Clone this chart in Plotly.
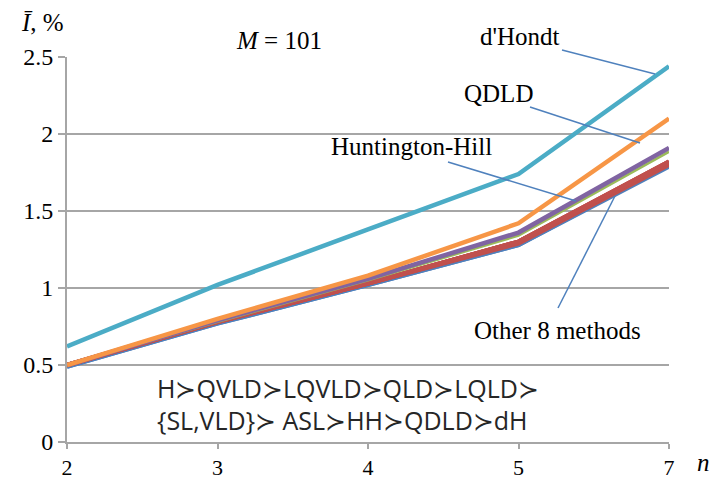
import plotly.graph_objects as go

# ---- data ----
n_values = ["2", "3", "4", "5", "7"]
y_ticks = [0, 0.5, 1, 1.5, 2, 2.5]
y_tick_labels = ["0", "0.5", "1", "1.5", "2", "2.5"]

other_names = ["H", "QVLD", "LQVLD", "QLD", "LQLD", "SL", "VLD", "ASL"]
other_values = [
    [0.49, 0.77, 1.02, 1.28, 1.79],
    [0.49, 0.77, 1.02, 1.28, 1.80],
    [0.50, 0.78, 1.03, 1.29, 1.80],
    [0.50, 0.78, 1.03, 1.30, 1.81],
    [0.50, 0.78, 1.03, 1.30, 1.82],
    [0.50, 0.78, 1.03, 1.30, 1.82],
    [0.50, 0.78, 1.03, 1.30, 1.82],
    [0.50, 0.78, 1.05, 1.34, 1.885],
]
other_colors = ["#4F81BD", "#4F81BD", "#C0504D", "#C0504D", "#C0504D",
                "#C0504D", "#C0504D", "#9BBB59"]
other_widths = [4.5, 4.5, 4.5, 4.5, 4.5, 4.5, 4.5, 2.5]

hh_values = [0.50, 0.79, 1.06, 1.36, 1.91]
qdld_values = [0.50, 0.80, 1.08, 1.42, 2.10]
dh_values = [0.62, 1.02, 1.38, 1.74, 2.44]

rank_line1 = "H≻QVLD≻LQVLD≻QLD≻LQLD≻"
rank_line2 = "{SL,VLD}≻ ASL≻HH≻QDLD≻dH"

# ---- figure ----
fig = go.Figure()
LW = 4.5
for name, vals, col, w in zip(other_names, other_values, other_colors, other_widths):
    fig.add_trace(go.Scatter(x=n_values, y=vals, mode="lines", name=name,
                             line=dict(color=col, width=w)))
fig.add_trace(go.Scatter(x=n_values, y=hh_values, mode="lines", name="Huntington-Hill",
                         line=dict(color="#8064A2", width=LW)))
fig.add_trace(go.Scatter(x=n_values, y=qdld_values, mode="lines", name="QDLD",
                         line=dict(color="#F79646", width=LW)))
fig.add_trace(go.Scatter(x=n_values, y=dh_values, mode="lines", name="d'Hondt",
                         line=dict(color="#4BACC6", width=LW)))

# target plot-area edges on screen (page body adds an 8px offset)
OFF = 8
L, R, T, B = 67, 669, 57, 442
W, H = 717, 484


def px(x):
    return (x - L) / (R - L)


def py(y):
    return (B - y) / (B - T)


serif = "Liberation Serif"
grid_col = "#A6A6A6"

fig.update_layout(
    width=W, height=H,
    margin=dict(l=L - OFF, r=W - R + OFF, t=T - OFF, b=H - B + OFF),
    paper_bgcolor="white", plot_bgcolor="white",
    showlegend=False,
    font=dict(family=serif, size=24, color="#000000"),
    xaxis=dict(type="category", range=[0, 4], showgrid=False, automargin=False,
               showline=True, linecolor=grid_col, linewidth=2,
               ticks="outside", ticklen=5, tickcolor=grid_col, tickwidth=2,
               tickfont=dict(family=serif, size=22, color="#000"),
               zeroline=False),
    yaxis=dict(range=[0, 2.5], tickvals=y_ticks, ticktext=y_tick_labels, automargin=False,
               showgrid=True, gridcolor=grid_col, gridwidth=2,
               showline=True, linecolor=grid_col, linewidth=2,
               ticks="outside", ticklen=7, tickcolor=grid_col, tickwidth=2,
               tickfont=dict(family=serif, size=24, color="#000"),
               zeroline=False),
)

ann_font = dict(family=serif, size=25, color="#000")
labels = [
    ("<i>Ī</i>, %", 42, 22),
    ("<i>M</i> = 101", 279, 40),
    ("d'Hondt", 520, 37),
    ("QDLD", 498, 93),
    ("Huntington-Hill", 411, 146),
    ("Other 8 methods", 557, 330),
    ("<i>n</i>", 703, 463),
]
for text, x, y in labels:
    fig.add_annotation(text=text, x=px(x), y=py(y), xref="paper", yref="paper",
                       showarrow=False, font=ann_font, xanchor="center", yanchor="middle")

sans = dict(family="Open Sans", size=25, color="#262626")
fig.add_annotation(text=rank_line1, x=px(155), y=py(388), xref="paper", yref="paper",
                   showarrow=False, font=sans, xanchor="left", yanchor="middle")
fig.add_annotation(text=rank_line2, x=px(155), y=py(420), xref="paper", yref="paper",
                   showarrow=False, font=sans, xanchor="left", yanchor="middle")

leaders = [
    ((562, 50), (655, 74)),
    ((530, 107), (640, 143)),
    ((448, 162), (576, 201)),
    ((558, 308), (615, 196)),
]
for (x0, y0), (x1, y1) in leaders:
    fig.add_shape(type="line", xref="paper", yref="paper",
                  x0=px(x0), y0=py(y0), x1=px(x1), y1=py(y1),
                  line=dict(color="#4F81BD", width=1.5))

fig.write_html("out.html")
